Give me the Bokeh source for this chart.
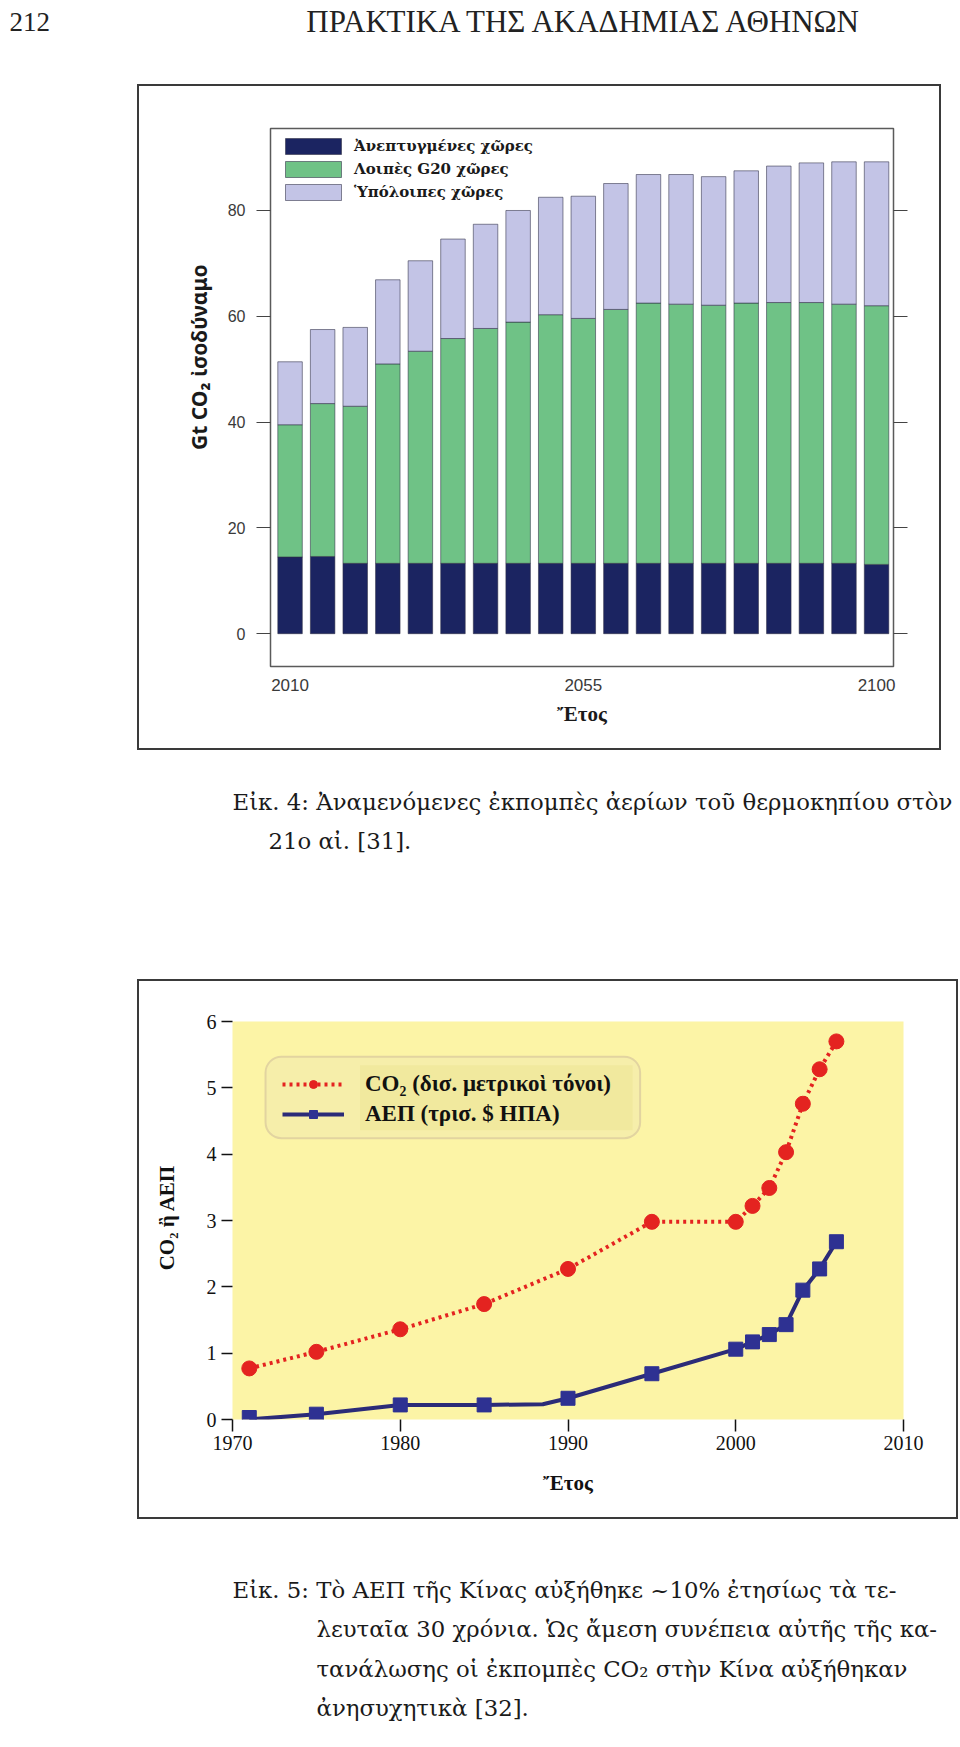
import math
from bokeh.plotting import figure
from bokeh.models import (Range1d, LinearAxis, FixedTicker, Legend, LegendItem,
                          BoxAnnotation, ColumnDataSource, Spacer)
from bokeh.layouts import column, row
from bokeh.core.properties import value
from bokeh.embed import file_html
from bokeh.resources import INLINE

# ---------------- Data: Fig. 4 (stacked bars) ----------------
years_fig4 = [2010, 2015, 2020, 2025, 2030, 2035, 2040, 2045, 2050, 2055,
              2060, 2065, 2070, 2075, 2080, 2085, 2090, 2095, 2100]
developed = [14.5, 14.6, 13.3, 13.3, 13.3, 13.3, 13.3, 13.3, 13.3, 13.3,
             13.3, 13.3, 13.3, 13.3, 13.3, 13.3, 13.3, 13.3, 13.1]
other_g20 = [25.0, 28.9, 29.7, 37.7, 40.1, 42.5, 44.4, 45.6, 47.0, 46.3,
             48.0, 49.2, 49.0, 48.8, 49.2, 49.3, 49.3, 49.0, 48.9]
rest_world = [11.9, 14.0, 14.9, 15.9, 17.1, 18.8, 19.7, 21.1, 22.2, 23.1,
              23.8, 24.3, 24.5, 24.3, 25.0, 25.8, 26.4, 26.9, 27.2]
fig4_series = ["Ἀνεπτυγμένες χῶρες", "Λοιπὲς G20 χῶρες", "Ὑπόλοιπες χῶρες"]
fig4_yticks = [0, 20, 40, 60, 80]
fig4_xticks = [2010, 2055, 2100]

# ---------------- Data: Fig. 5 (lines) ----------------
co2_years = [1971, 1975, 1980, 1985, 1990, 1995, 2000, 2001, 2002, 2003, 2004, 2005, 2006]
co2_values = [0.77, 1.02, 1.36, 1.74, 2.27, 2.98, 2.98, 3.22, 3.49, 4.03, 4.76, 5.28, 5.70]
gdp_years = [1971, 1975, 1980, 1985, 1990, 1995, 2000, 2001, 2002, 2003, 2004, 2005, 2006]
gdp_values = [0.03, 0.08, 0.22, 0.22, 0.32, 0.69, 1.06, 1.17, 1.28, 1.43, 1.95, 2.27, 2.68]
gdp_line_years = [1971, 1975, 1980, 1985, 1988.5, 1990, 1995, 2000, 2001, 2002, 2003, 2004, 2005, 2006]
gdp_line_values = [0.0, 0.08, 0.22, 0.22, 0.23, 0.32, 0.69, 1.06, 1.17, 1.28, 1.43, 1.95, 2.27, 2.68]
fig5_series = ["CO₂ (δισ. μετρικοὶ τόνοι)", "ΑΕΠ (τρισ. $ ΗΠΑ)"]
fig5_yticks = [0, 1, 2, 3, 4, 5, 6]
fig5_xticks = [1970, 1980, 1990, 2000, 2010]

# ---------------- Texts ----------------
page_number = "212"
running_head = "ΠΡΑΚΤΙΚΑ ΤΗΣ ΑΚΑΔΗΜΙΑΣ ΑΘΗΝΩΝ"
caption4 = ["Εἰκ. 4: Ἀναμενόμενες ἐκπομπὲς ἀερίων τοῦ θερμοκηπίου στὸν",
            "21ο αἰ. [31]."]
caption5 = ["Εἰκ. 5: Τὸ ΑΕΠ τῆς Κίνας αὐξήθηκε ~10% ἐτησίως τὰ τε-",
            "λευταῖα 30 χρόνια. Ὡς ἄμεση συνέπεια αὐτῆς τῆς κα-",
            "τανάλωσης οἱ ἐκπομπὲς CO₂ στὴν Κίνα αὐξήθηκαν",
            "ἀνησυχητικὰ [32]."]

W = 960
FRAME_COLOR = "#3a3a3a"
CAP_FONT = "DejaVu Serif"
CAP_SIZE = "22.8px"


def base_fig(w, h, **kw):
    return figure(width=w, height=h, toolbar_location=None, output_backend="svg",
                  title=None, frame_align=False, **kw)


def text_fig(w, h):
    p = base_fig(w, h, x_range=Range1d(0, w), y_range=Range1d(h, 0),
                 x_axis_type=None, y_axis_type=None, min_border=0)
    p.outline_line_color = None
    return p


def solid(w, h, color=FRAME_COLOR):
    return Spacer(width=w, height=h, styles={"background-color": color})


def put_text(p, left, top, px, py, txt, font, size, style="normal", color="#1a1a1a",
             align="left", angle=0.0, baseline="alphabetic"):
    p.text(x=[px - left], y=[py - top], text=[txt], text_font=value(font),
           text_font_size=size, text_font_style=style, text_color=color,
           text_align=align, text_baseline=baseline, angle=angle)


# ---------------- Header (page y 0..70) ----------------
ph = text_fig(W, 70)
put_text(ph, 0, 0, 9, 21, page_number, "Liberation Serif", "27px", color="#222222")
put_text(ph, 0, 0, 585, 21, running_head, "Liberation Serif", "31px", color="#222222",
         align="center")

# ---------------- Fig. 4 section (page y 70..765) ----------------
# outer frame: x 137..941, y 84..750 ; inner area x 139..939, y 86..748
yt4 = text_fig(76, 662)                      # page x 139..215
put_text(yt4, 139, 86, 198, 354, "Gt CO₂  ἰσοδύναμο", "Noto Sans", "21px",
         style="bold", align="center", angle=math.pi / 2, baseline="middle")

p4 = base_fig(724, 662, x_range=Range1d(2007.0, 2102.6), y_range=Range1d(-6.2, 95.5),
              min_border_left=55, min_border_right=46, min_border_top=42, min_border_bottom=82)
p4.grid.visible = False
p4.outline_line_color = "#5a5a5a"
p4.outline_line_width = 1.5

src4 = ColumnDataSource(dict(year=years_fig4, developed=developed,
                             other_g20=other_g20, rest=rest_world))
bars = p4.vbar_stack(["developed", "other_g20", "rest"], x="year", width=3.76, source=src4,
                     fill_color=["#1b2461", "#6fc286", "#c3c4e6"],
                     line_color="#2d2d45", line_width=0.7, line_alpha=0.8)

xa = p4.xaxis[0]
xa.ticker = FixedTicker(ticks=fig4_xticks)
xa.major_tick_out = 0
xa.major_tick_in = 0
xa.minor_tick_out = 0
xa.minor_tick_in = 0
xa.axis_line_color = None
xa.major_label_standoff = 12
xa.major_label_text_font = "Liberation Sans"
xa.major_label_text_font_size = "17px"
xa.major_label_text_color = "#3a3a3a"
xa.axis_label = "Ἔτος"
xa.axis_label_text_font = "Liberation Serif"
xa.axis_label_text_font_style = "bold"
xa.axis_label_text_font_size = "21px"
xa.axis_label_text_color = "#1a1a1a"
xa.axis_label_standoff = 8

ya = p4.yaxis[0]
ya.ticker = FixedTicker(ticks=fig4_yticks)
ya.major_tick_out = 14
ya.major_tick_in = 0
ya.minor_tick_out = 0
ya.minor_tick_in = 0
ya.major_tick_line_color = "#444444"
ya.axis_line_color = None
ya.major_label_standoff = 11
ya.major_label_text_font = "Liberation Sans"
ya.major_label_text_font_size = "16px"
ya.major_label_text_color = "#3a3a3a"

ra = LinearAxis(ticker=FixedTicker(ticks=fig4_yticks), major_tick_out=14, major_tick_in=0,
                minor_tick_out=0, minor_tick_in=0, axis_line_color=None,
                major_tick_line_color="#444444", major_label_text_color=None,
                major_label_text_alpha=0)
p4.add_layout(ra, "right")

leg4 = Legend(items=[LegendItem(label=fig4_series[i], renderers=[bars[i]]) for i in range(3)],
              location="top_left", margin=8, padding=0, spacing=3,
              glyph_width=70, glyph_height=20, label_height=20, label_standoff=6,
              label_text_font="DejaVu Serif", label_text_font_style="bold",
              label_text_font_size="15px", label_text_color="#1a1a1a",
              background_fill_alpha=0, border_line_color=None)
p4.add_layout(leg4)

frame4 = column(
    Spacer(width=804, height=14),
    solid(804, 2),
    row(solid(2, 662), yt4, p4, solid(2, 662), spacing=0),
    solid(804, 2),
    Spacer(width=804, height=15),
    spacing=0)
sec4 = row(Spacer(width=137, height=695), frame4, spacing=0)

# ---------------- Caption 4 (page y 765..970) ----------------
pc4 = text_fig(W, 205)
put_text(pc4, 0, 765, 232, 801.5, caption4[0], CAP_FONT, CAP_SIZE)
put_text(pc4, 0, 765, 268, 840, caption4[1], CAP_FONT, CAP_SIZE)

# ---------------- Fig. 5 section (page y 970..1530) ----------------
# outer frame: x 137..958, y 979..1519 ; inner area x 139..956, y 981..1517
yt5 = text_fig(61, 536)                      # page x 139..200
put_text(yt5, 139, 981, 166, 1217, "CO₂ ἢ ΑΕΠ", "Liberation Serif", "21px",
         style="bold", color="#111111", align="center", angle=math.pi / 2, baseline="middle")

p5 = base_fig(756, 536, x_range=Range1d(1970, 2010), y_range=Range1d(0, 6),
              min_border_left=32, min_border_right=53, min_border_top=40, min_border_bottom=98)
p5.grid.visible = False
p5.outline_line_color = None
p5.background_fill_color = "#fcf4a6"

p5.add_layout(BoxAnnotation(left=1971.97, right=1994.3, top=5.47, bottom=4.24,
                            fill_color="#f6eeaa", fill_alpha=1, line_color="#e2d4a0",
                            line_alpha=1, line_width=2, border_radius=16))
p5.add_layout(BoxAnnotation(left=1977.6, right=1993.85, top=5.34, bottom=4.36,
                            fill_color="#f1e99e", fill_alpha=1, line_color=None))

gdp_line = p5.line(gdp_line_years, gdp_line_values, line_color="#2b2b78", line_width=4)
gdp_pts = p5.scatter(gdp_years, gdp_values, marker="square", size=14,
                     fill_color="#2e3192", line_color="#2e3192")
co2_line = p5.line(co2_years, co2_values, line_color="#e42320", line_width=4, line_dash="3 4")
co2_pts = p5.scatter(co2_years, co2_values, marker="circle", size=15,
                     fill_color="#e42320", line_color="#e42320")

xb = p5.xaxis[0]
xb.ticker = FixedTicker(ticks=fig5_xticks)
xb.major_tick_out = 12
xb.major_tick_in = 0
xb.minor_tick_out = 0
xb.minor_tick_in = 0
xb.major_tick_line_color = "#111111"
xb.major_tick_line_width = 1.5
xb.axis_line_color = None
xb.major_label_standoff = 4
xb.major_label_text_font = "Liberation Serif"
xb.major_label_text_font_size = "20px"
xb.major_label_text_color = "#111111"
xb.axis_label = "Ἔτος"
xb.axis_label_text_font = "Liberation Serif"
xb.axis_label_text_font_style = "bold"
xb.axis_label_text_font_size = "21px"
xb.axis_label_text_color = "#111111"
xb.axis_label_standoff = 18

yb = p5.yaxis[0]
yb.ticker = FixedTicker(ticks=fig5_yticks)
yb.major_tick_out = 11
yb.major_tick_in = 0
yb.minor_tick_out = 0
yb.minor_tick_in = 0
yb.major_tick_line_color = "#111111"
yb.major_tick_line_width = 1.5
yb.axis_line_color = None
yb.major_label_standoff = 5
yb.major_label_text_font = "Liberation Serif"
yb.major_label_text_font_size = "20px"
yb.major_label_text_color = "#111111"

leg5 = Legend(items=[LegendItem(label=fig5_series[0], renderers=[co2_line, co2_pts]),
                     LegendItem(label=fig5_series[1], renderers=[gdp_line, gdp_pts])],
              location="top_left", margin=50, padding=0, spacing=4,
              glyph_width=62, glyph_height=20, label_height=20, label_standoff=21,
              label_text_font="Liberation Serif", label_text_font_style="bold",
              label_text_font_size="23px", label_text_color="#111111",
              background_fill_alpha=0, border_line_color=None)
p5.add_layout(leg5)

frame5 = column(
    Spacer(width=821, height=9),
    solid(821, 2),
    row(solid(2, 536), yt5, p5, solid(2, 536), spacing=0),
    solid(821, 2),
    Spacer(width=821, height=11),
    spacing=0)
sec5 = row(Spacer(width=137, height=560), frame5, spacing=0)

# ---------------- Caption 5 (page y 1530..1746) ----------------
pc5 = text_fig(W, 216)
put_text(pc5, 0, 1530, 232, 1589, caption5[0], CAP_FONT, CAP_SIZE)
for i, line in enumerate(caption5[1:]):
    put_text(pc5, 0, 1530, 316, 1628.5 + 39.5 * i, line, CAP_FONT, CAP_SIZE)

layout = column(ph, sec4, pc4, sec5, pc5, spacing=0)
open("out.html", "w").write(file_html(layout, INLINE))
